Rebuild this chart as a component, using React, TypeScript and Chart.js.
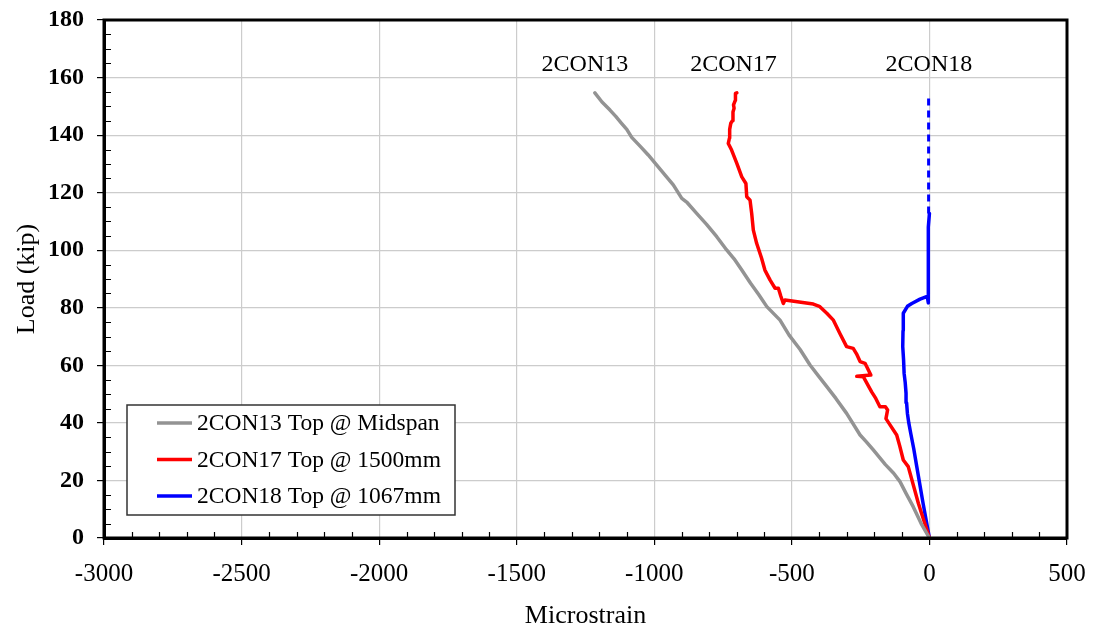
import React, { useEffect, useRef } from "react";
import { Chart, registerables } from "chart.js";

Chart.register(...registerables);

// ---- Data (x = microstrain, y = load in kip) ----
const con13Strain = [0, -30, -59, -85, -107, -130, -160, -204, -230, -252, -301, -340, -373, -405, -434, -470, -510, -543, -591, -620, -650, -682, -710, -737, -773, -810, -846, -880, -900, -931, -960, -991, -1022, -1050, -1082, -1100, -1119, -1140, -1161, -1190, -1216];
const con13Load = [0, 5, 10.9, 15.5, 19.6, 22.5, 25.5, 30.6, 33.5, 35.8, 43.3, 48.5, 52.6, 56.5, 60.1, 65.5, 70.5, 75.7, 80.4, 84.5, 88.5, 93.1, 97, 100.1, 104.7, 109, 112.8, 116.5, 118, 122.7, 126, 129.6, 133.1, 136, 139.2, 142, 144.1, 146.5, 148.7, 151.5, 154.7];

const con17Strain = [0, -40, -77, -95, -108, -119, -148, -158, -152, -160, -180, -195, -210, -240, -264, -213, -225, -234, -252, -265, -277, -301, -325, -349, -373, -400, -422, -525, -531, -540, -549, -561, -579, -598, -610, -628, -640, -646, -652, -664, -667, -682, -700, -719, -731, -727, -726, -722, -716, -714, -710, -712, -706, -705, -700];
const con17Load = [0, 12, 24.8, 27.1, 32, 35.8, 40, 41.5, 44.5, 45.6, 45.6, 48.5, 50.8, 56, 56.2, 56.6, 59, 60.7, 61.3, 64, 65.9, 66.5, 71, 75.7, 78.1, 80.5, 81.3, 82.7, 81.5, 84, 86.8, 86.8, 89.6, 93.1, 97.2, 102.4, 107, 112.8, 117.4, 118.6, 123.2, 125.5, 130.2, 134.8, 137.1, 138.9, 142, 144.1, 145, 148, 149.3, 150.5, 152, 154.5, 154.7];

const con18Strain = [0, -23, -46, -57, -68, -75, -80, -83, -85, -88, -92, -94, -97, -96, -95, -80, -64, -34, -8, -4, -5, -5, -2, 0];
const con18Load = [0, 12, 24.8, 31, 36.4, 40, 43.3, 47, 50.3, 54, 57.2, 62, 66.5, 72, 78.1, 80.5, 81.5, 83, 84, 81.7, 90, 100, 108, 112.8];

const con18DashStrain = [-3, -3];
const con18DashLoad = [112.8, 153.5];

const seriesNames = ["2CON13 Top @ Midspan", "2CON17 Top @ 1500mm", "2CON18 Top @ 1067mm"];
const seriesColors = ["#939393", "#ff0000", "#0000ff"];

const labelTexts = ["2CON13", "2CON17", "2CON18"];
const labelStrain = [-1252, -712, -2];
const labelLoad = [164.5, 164.5, 164.5];

const xTicks = { min: -3000, max: 500, step: 500, minor: 100 };
const yTicks = { min: 0, max: 180, step: 20, minor: 5 };

const toPoints = (xs: number[], ys: number[]) => xs.map((x, i) => ({ x, y: ys[i] }));

const SERIF = "'Liberation Serif', 'Times New Roman', serif";

const overlayPlugin = {
  id: "overlay",
  afterDatasetsDraw(chart: any) {
    const { ctx, chartArea, scales } = chart;
    const xs = scales.x;
    const ys = scales.y;
    ctx.save();
    // minor ticks (inward)
    ctx.strokeStyle = "#000";
    ctx.lineWidth = 1.2;
    ctx.beginPath();
    for (let v = xTicks.min; v <= xTicks.max; v += xTicks.minor) {
      if (v % xTicks.step === 0) continue;
      const px = Math.round(xs.getPixelForValue(v)) + 0.5;
      ctx.moveTo(px, chartArea.bottom);
      ctx.lineTo(px, chartArea.bottom - 6);
    }
    for (let v = yTicks.min; v <= yTicks.max; v += yTicks.minor) {
      if (v % yTicks.step === 0) continue;
      const py = Math.round(ys.getPixelForValue(v)) + 0.5;
      ctx.moveTo(chartArea.left, py);
      ctx.lineTo(chartArea.left + 7, py);
    }
    ctx.stroke();
    // frame
    ctx.lineWidth = 3;
    ctx.strokeStyle = "#000";
    ctx.strokeRect(chartArea.left, chartArea.top, chartArea.right - chartArea.left, chartArea.bottom - chartArea.top);

    // series labels
    ctx.fillStyle = "#000";
    ctx.font = `24px ${SERIF}`;
    ctx.textAlign = "center";
    ctx.textBaseline = "middle";
    labelTexts.forEach((t, i) => {
      ctx.fillText(t, xs.getPixelForValue(labelStrain[i]), ys.getPixelForValue(labelLoad[i]));
    });

    // legend box
    const bx = 127, by = 405, bw = 328, bh = 110;
    ctx.fillStyle = "#fff";
    ctx.fillRect(bx, by, bw, bh);
    ctx.lineWidth = 1.5;
    ctx.strokeStyle = "#333";
    ctx.strokeRect(bx, by, bw, bh);
    const rows = [423, 459.5, 496];
    ctx.textAlign = "left";
    ctx.font = `23.5px ${SERIF}`;
    seriesNames.forEach((n, i) => {
      ctx.strokeStyle = seriesColors[i];
      ctx.lineWidth = 3.5;
      ctx.beginPath();
      ctx.moveTo(157, rows[i]);
      ctx.lineTo(192, rows[i]);
      ctx.stroke();
      ctx.fillStyle = "#000";
      ctx.fillText(n, 197, rows[i] + 1);
    });
    ctx.restore();
  },
};

export default function App() {
  const ref = useRef<HTMLCanvasElement | null>(null);
  useEffect(() => {
    document.body.style.margin = "0";
    const canvas = ref.current;
    if (!canvas) return;
    const lineDs = (label: string, data: any[], color: string, extra: any = {}) => ({
      label,
      data,
      borderColor: color,
      backgroundColor: color,
      borderWidth: 3.5,
      pointRadius: 0,
      tension: 0,
      fill: false,
      showLine: true,
      borderCapStyle: "round",
      borderJoinStyle: "round",
      ...extra,
    });
    const chart = new Chart(canvas, {
      type: "scatter",
      data: {
        datasets: [
          lineDs(seriesNames[0], toPoints(con13Strain, con13Load), seriesColors[0]),
          lineDs(seriesNames[1], toPoints(con17Strain, con17Load), seriesColors[1]),
          lineDs(seriesNames[2], toPoints(con18Strain, con18Load), seriesColors[2]),
          lineDs("2CON18 dashed", toPoints(con18DashStrain, con18DashLoad), seriesColors[2], { borderDash: [7, 5], borderCapStyle: "butt", borderWidth: 3 }),
        ],
      },
      options: {
        animation: false,
        responsive: false,
        maintainAspectRatio: false,
        layout: { padding: { top: 20, right: 26, left: 0, bottom: 0 } },
        plugins: { legend: { display: false }, tooltip: { enabled: false } },
        scales: {
          x: {
            type: "linear",
            min: xTicks.min,
            max: xTicks.max,
            ticks: { stepSize: xTicks.step, color: "#000", font: { family: SERIF, size: 25 }, padding: 14, maxRotation: 0, callback: (v: any) => String(v) },
            grid: { color: "#cccccc", lineWidth: 1.2, tickLength: 7, tickColor: "#000", tickWidth: 1.2 },
            border: { display: true, color: "#000", width: 3 },
            title: { display: true, text: "Microstrain", color: "#000", font: { family: SERIF, size: 26 }, padding: { top: 0, bottom: 2 } },
            afterFit: (s: any) => { s.height = 96; s.paddingLeft = 0; s.paddingRight = 0; },
          },
          y: {
            type: "linear",
            min: yTicks.min,
            max: yTicks.max,
            ticks: { stepSize: yTicks.step, color: "#000", font: { family: SERIF, size: 24, weight: "bold" }, padding: 13, callback: (v: any) => String(v) },
            grid: { color: "#cccccc", lineWidth: 1.2, tickLength: 7, tickColor: "#000", tickWidth: 1.2 },
            border: { display: true, color: "#000", width: 3 },
            title: { display: true, text: "Load (kip)", color: "#000", font: { family: SERIF, size: 26 }, padding: { top: 12, bottom: 0 } },
            afterFit: (s: any) => { s.width = 104; s.paddingTop = 0; s.paddingBottom = 0; },
          },
        },
      },
      plugins: [overlayPlugin],
    } as any);
    return () => chart.destroy();
  }, []);
  return (
    <div style={{ width: 1093, height: 634 }}>
      <canvas ref={ref} width={1093} height={634} style={{ display: "block" }} />
    </div>
  );
}
